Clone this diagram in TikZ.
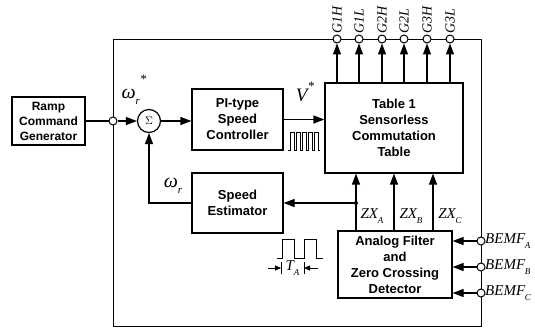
\documentclass[tikz,border=0pt]{standalone}
\usepackage{fontspec}
\setmainfont{Liberation Sans}
\newfontfamily\tnr{Liberation Serif}
\usetikzlibrary{arrows.meta}
\newcommand\vsub[2]{#1\kern-0.02em\raisebox{-0.3em}{\fontsize{9}{9}\selectfont #2}}
\tikzset{
  blk/.style={draw, line width=1.2pt, align=center, inner sep=0pt,
    font=\bfseries\fontsize{13}{16}\selectfont},
  ln/.style={line width=1.2pt},
  arr/.style={line width=1.2pt, -{Triangle[length=11pt,width=8pt]}},
  sarr/.style={line width=0.8pt, -{Triangle[length=6pt,width=5pt]}},
  port/.style={circle, draw, line width=1pt, fill=white, minimum size=8pt, inner sep=0pt},
  var/.style={inner sep=0pt, font=\tnr\itshape\fontsize{15}{15}\selectfont},
  glbl/.style={inner sep=0pt, rotate=90, anchor=west, font=\tnr\itshape\fontsize{14}{14}\selectfont},
}
\begin{document}
\begin{tikzpicture}[x=1pt,y=-1pt]
\useasboundingbox (0,0) rectangle (535,329);
% frame
\draw[line width=0.9pt] (113,39) rectangle (481,326);
% blocks
\node[blk, minimum width=73pt, minimum height=48pt, font=\bfseries\fontsize{12}{15}\selectfont] (ramp) at (48.5,121) {Ramp\\Command\\Generator};
\node[port] (in) at (113,121) {};
\node[circle, draw, line width=1.2pt, minimum size=23pt, inner sep=0pt, font=\fontsize{11}{11}\selectfont] (sum) at (149,121) {$\Sigma$};
\node[blk, minimum width=91pt, minimum height=61pt] (pi) at (237.5,119.5) {PI-type\\Speed\\Controller};
\node[blk, minimum width=138pt, minimum height=90pt] (tab) at (394,128) {Table 1\\Sensorless\\Commutation\\Table};
\node[blk, minimum width=91pt, minimum height=60pt] (est) at (237.5,203) {Speed\\Estimator};
\node[blk, minimum width=114pt, minimum height=67pt] (afz) at (395,264.5) {Analog Filter\\and\\Zero Crossing\\Detector};
% main path
\draw[ln] (ramp.east) -- (in);
\draw[arr] (in) -- (sum);
\draw[arr] (sum) -- (sum -| pi.west);
\draw[arr] (pi.east) -- (pi.east -| tab.west);
% gate outputs
\foreach \x/\n in {337/G1H, 359/G1L, 382/G2H, 404/G2L, 427/G3H, 450/G3L} {
  \node[port] (p\n) at (\x,39) {};
  \draw[arr] (tab.north -| p\n) -- (p\n.south);
  \node[glbl] (l\n) at (\x,34) {\n};
}
% zero crossing signals
\coordinate (zxA) at (356,231);
\coordinate (zxB) at (394,231);
\coordinate (zxC) at (433,231);
\foreach \s in {A,B,C} {
  \draw[arr] (afz.north -| zx\s) -- (tab.south -| zx\s);
}
\coordinate (br) at (356,203);
\fill (br) circle (2pt);
\draw[arr] (br) -- (br -| est.east);
\draw[arr] (est.west) -- (sum |- est.west) -- (sum.south);
\node[var] (lzA) at (372,216) {\vsub{ZX}{A}};
\node[var] (lzB) at (411,216) {\vsub{ZX}{B}};
\node[var] (lzC) at (450,216) {\vsub{ZX}{C}};
% BEMF inputs
\foreach \y/\s in {241/A, 267/B, 293/C} {
  \node[port] (b\s) at (481,\y) {};
  \draw[arr] (b\s) -- (b\s -| afz.east);
  \node[var, anchor=west] (lb\s) at (485,\y) {\vsub{BEMF}{\s}};
}
% variable labels
\node[inner sep=0pt, font=\tnr\itshape\fontsize{20}{20}\selectfont] (wref) at (134,90)
  {ω\raisebox{-0.3em}{\fontsize{11}{11}\selectfont r}\raisebox{0.75em}{\fontsize{13}{13}\selectfont *}};
\node[inner sep=0pt, font=\tnr\itshape\fontsize{20}{20}\selectfont] (wr) at (173,186)
  {ω\raisebox{-0.3em}{\fontsize{11}{11}\selectfont r}};
\node[inner sep=0pt, font=\tnr\itshape\fontsize{19}{19}\selectfont] (vref) at (305,92)
  {V\raisebox{0.6em}{\fontsize{13}{13}\selectfont *}};
% PWM waveform
\draw[line width=0.8pt] (288,150) foreach \i in {0,...,4} { -- ++(2.5,0) -- ++(0,-18) -- ++(3.5,0) -- ++(0,18) } -- ++(2,0);
% zero-crossing waveform and period
\draw[line width=0.9pt] (277,258) -- (282,258) -- (282,239) -- (294,239) -- (294,258) -- (304,258) -- (304,239) -- (316,239) -- (316,258) -- (323,258);
\draw[line width=0.8pt] (281,262) -- (281,274);
\draw[line width=0.8pt] (304,262) -- (304,274);
\draw[sarr] (268,268) -- (281,268);
\draw[sarr] (318,268) -- (304,268);
\node[var] (ta) at (292.5,268) {\vsub{T}{A}};
\end{tikzpicture}
\end{document}
